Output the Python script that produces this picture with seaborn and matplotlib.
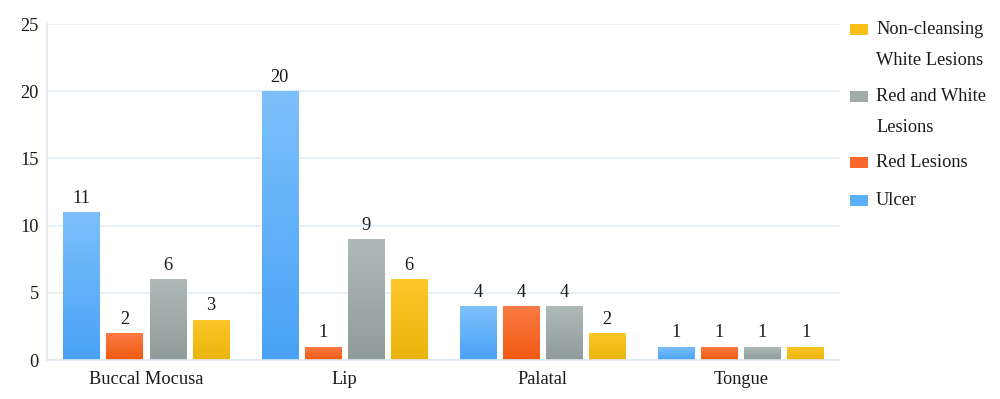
import numpy as np
import pandas as pd
import matplotlib
matplotlib.use("Agg")
import matplotlib.pyplot as plt
import seaborn as sns
from matplotlib.colors import LinearSegmentedColormap
from matplotlib.patches import Rectangle

sites = ["Buccal Mocusa", "Lip", "Palatal", "Tongue"]
lesions = ["Ulcer", "Red Lesions", "Red and White Lesions", "Non-cleansing White Lesions"]
ulcer = [11, 20, 4, 1]
red = [2, 1, 4, 1]
red_white = [6, 9, 4, 1]
non_cleansing = [3, 6, 2, 1]

legend_labels = {
    "Ulcer": "Ulcer",
    "Red Lesions": "Red Lesions",
    "Red and White Lesions": "Red and White\nLesions",
    "Non-cleansing White Lesions": "Non-cleansing\nWhite Lesions",
}

df = pd.DataFrame({
    "Site": sites * 4,
    "Lesion": [l for l in lesions for _ in sites],
    "Count": ulcer + red + red_white + non_cleansing,
})

top_cols = {"Ulcer": "#7cc0fb", "Red Lesions": "#fb7a45",
            "Red and White Lesions": "#aebab7", "Non-cleansing White Lesions": "#fdc62a"}
bot_cols = {"Ulcer": "#4aa2f6", "Red Lesions": "#f05a10",
            "Red and White Lesions": "#8f9c99", "Non-cleansing White Lesions": "#e9b50c"}
mid_cols = {"Ulcer": "#5ab0f8", "Red Lesions": "#f8682c",
            "Red and White Lesions": "#a0aca9", "Non-cleansing White Lesions": "#fbbf1a"}

sns.set_theme(style="white")
plt.rcParams["font.family"] = ["Liberation Serif", "DejaVu Serif"]

W, H = 1000, 399
fig = plt.figure(figsize=(W / 100, H / 100), dpi=100)
ax = fig.add_axes([0.047, 0.0977, 0.793, 0.842])

sns.barplot(data=df, x="Site", y="Count", hue="Lesion", hue_order=lesions,
            palette=mid_cols, width=0.87, gap=0.16, ax=ax, legend=False,
            edgecolor="none")

ax.set_yticks([0, 5, 10, 15, 20, 25])
ax.grid(axis="y", color="#e3edf5", linewidth=1.2)
ax.set_axisbelow(True)
for s in ["top", "right"]:
    ax.spines[s].set_visible(False)
for s in ["left", "bottom"]:
    ax.spines[s].set_color("#dde8f2")
    ax.spines[s].set_linewidth(1.2)
ax.tick_params(axis="both", length=0, labelsize=13.2, colors="#1a1a1a")
ax.tick_params(axis="y", pad=6)
ax.tick_params(axis="x", pad=8)
ax.set_xlabel("")
ax.set_ylabel("")

# gradient fills and labels
for cont, les in zip(ax.containers, lesions):
    cmap = LinearSegmentedColormap.from_list(les, [bot_cols[les], top_cols[les]])
    for bar in cont:
        x0, w, h = bar.get_x(), bar.get_width(), bar.get_height()
        grad = np.linspace(0, 1, 100).reshape(-1, 1)
        im = ax.imshow(grad, extent=[x0, x0 + w, 0, h], origin="lower",
                       cmap=cmap, aspect="auto", zorder=bar.get_zorder())
        im.set_clip_path(bar)
        bar.set_facecolor("none")
    ax.bar_label(cont, padding=4, fontsize=13.2, color="#1a1a1a")

ax.set_xlim(-0.5, 3.5)
ax.set_ylim(0, 25)

# legend drawn manually (pixel layout in figure coords)
entries = lesions[::-1]
first_line_y = [30, 97, 163, 201]
for les, yc in zip(entries, first_line_y):
    fig.patches.append(Rectangle((850 / W, 1 - (yc + 5) / H), 18 / W, 11 / H,
                                 transform=fig.transFigure, facecolor=mid_cols[les],
                                 edgecolor="none"))
    fig.text(876 / W, 1 - yc / H + 9 / H, legend_labels[les], ha="left", va="top",
             fontsize=13.2, color="#1a1a1a", linespacing=2.05,
             transform=fig.transFigure)

fig.savefig("out.png", dpi=100)
